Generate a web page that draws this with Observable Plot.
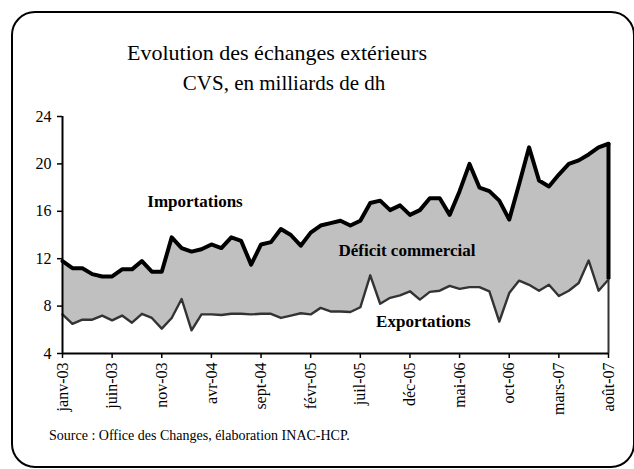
<!DOCTYPE html>
<html>
<head>
<meta charset="utf-8">
<script src="https://cdn.jsdelivr.net/npm/d3@7"></script>
<script src="https://cdn.jsdelivr.net/npm/@observablehq/plot@0.6"></script>
<style>
  html, body { margin: 0; padding: 0; background: white; }
  #wrap { position: relative; width: 634px; height: 469px; overflow: hidden; font-family: "Liberation Serif", "Times New Roman", serif; }
  #frame { position: absolute; left: 11px; top: 11px; width: 624px; height: 457px; box-sizing: border-box; border: 2px solid black; border-radius: 24px; }
  .t { position: absolute; white-space: nowrap; font-size: 22px; transform: translateX(-50%); line-height: 1; }
  #src { position: absolute; left: 49px; top: 429px; font-size: 14px; white-space: nowrap; line-height: 1; }
  #chart { position: absolute; left: 0; top: 0; }
</style>
</head>
<body>
<div id="wrap">
  <div id="chart"></div>
  <div id="frame"></div>
  <div class="t" style="left:277px; top:42px;">Evolution des échanges extérieurs</div>
  <div class="t" style="left:284px; top:73px; font-size:21px;">CVS, en milliards de dh</div>
  <div id="src">Source : Office des Changes, élaboration INAC-HCP.</div>
</div>
<script>
const tickLabels = ["janv-03","juin-03","nov-03","avr-04","sept-04","févr-05","juil-05","déc-05","mai-06","oct-06","mars-07","août-07"];
const yTicks = [4, 8, 12, 16, 20, 24];

// Monthly, janv-03 .. août-07 (56 months)
const importations = [
  11.8, 11.2, 11.2, 10.7, 10.5, 10.5, 11.1, 11.1, 11.8, 10.9,
  10.9, 13.8, 12.9, 12.6, 12.8, 13.2, 12.9, 13.8, 13.5, 11.5,
  13.2, 13.4, 14.5, 14.0, 13.1, 14.2, 14.8, 15.0, 15.2, 14.8,
  15.2, 16.7, 16.9, 16.1, 16.5, 15.7, 16.1, 17.1, 17.1, 15.7,
  17.7, 20.0, 18.0, 17.7, 16.9, 15.3, 18.3, 21.4, 18.6, 18.1,
  19.1, 20.0, 20.3, 20.8, 21.4, 21.7
];
const exportations = [
  7.3, 6.5, 6.85, 6.85, 7.2, 6.8, 7.2, 6.6, 7.35, 7.0,
  6.1, 7.0, 8.6, 5.95, 7.3, 7.3, 7.25, 7.35, 7.35, 7.3,
  7.35, 7.35, 7.0, 7.2, 7.4, 7.3, 7.85, 7.55, 7.55, 7.5,
  7.9, 10.6, 8.2, 8.7, 8.9, 9.25, 8.55, 9.2, 9.3, 9.7,
  9.45, 9.6, 9.6, 9.25, 6.7, 9.1, 10.15, 9.8, 9.3, 9.8,
  8.85, 9.3, 9.95, 11.85, 9.3, 10.25
];
const seriesLabels = [
  {text: "Importations", i: 13.35, v: 16.8},
  {text: "Déficit commercial", i: 34.7, v: 12.7},
  {text: "Exportations", i: 36.35, v: 6.7}
];

const data = importations.map((v, i) => ({i, imp: v, exp: exportations[i]}));
const last = data[data.length - 1];
const xTicks = tickLabels.map((_, k) => k * 5);
const xFmt = d => tickLabels[Math.round(d / 5)];

const chart = Plot.plot({
  width: 634,
  height: 469,
  marginTop: 116,
  marginBottom: 116,
  marginLeft: 62,
  marginRight: 26,
  style: {background: "transparent", fontFamily: "Liberation Serif, Times New Roman, serif", fontSize: "16px", color: "black"},
  x: {domain: [0, data.length - 1], label: null},
  y: {domain: [4, 24], label: null},
  marks: [
    Plot.areaY(data, {x: "i", y1: "exp", y2: "imp", fill: "#c0c0c0"}),
    Plot.lineY(data, {x: "i", y: "exp", stroke: "#333", strokeWidth: 2.4, strokeLinejoin: "round"}),
    Plot.lineY(data, {x: "i", y: "imp", stroke: "black", strokeWidth: 4, strokeLinejoin: "round"}),
    Plot.ruleX([last], {x: "i", y1: 4, y2: "exp", stroke: "#333", strokeWidth: 2}),
    Plot.ruleX([last], {x: "i", y1: "exp", y2: "imp", stroke: "black", strokeWidth: 4}),
    Plot.ruleX([0], {stroke: "black", strokeWidth: 2}),
    Plot.ruleY([4], {stroke: "black", strokeWidth: 2}),
    Plot.axisY({ticks: yTicks, tickSize: 5, tickPadding: 6, stroke: "black", strokeWidth: 1.5, fontSize: 16}),
    Plot.axisX({ticks: xTicks, tickFormat: xFmt, tickRotate: -90, tickSize: 5, tickPadding: 4, stroke: "black", strokeWidth: 1.5, fontSize: 16}),
    Plot.text(seriesLabels, {x: "i", y: "v", text: "text", fontWeight: "bold", fontSize: 17, fill: "black"})
  ]
});
document.getElementById("chart").appendChild(chart);
</script>
</body>
</html>
